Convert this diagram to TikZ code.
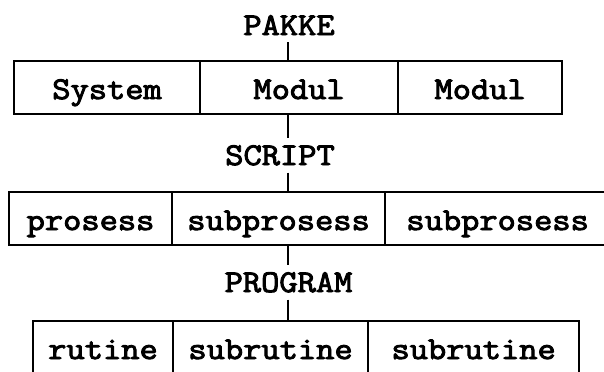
\documentclass[tikz,border=0pt]{standalone}
\usepackage{fontspec}
\newfontfamily\typewriter[FakeStretch=1.12,FakeBold=3]{Latin Modern Mono}
\usetikzlibrary{positioning}
\tikzset{
  cellbox/.style={draw,
    line width=1.7pt,
    outer sep=0pt,
    inner sep=0pt,
    minimum height=1.325cm,
    text height=0.95cm,
    text depth=0.375cm,
    font=\fontsize{22.5}{27}\selectfont\typewriter},
  levelname/.style={inner xsep=0pt,
    inner ysep=0.175cm,
    font=\fontsize{22.5}{27}\selectfont\typewriter},
  stub/.style={line width=1.7pt}
}

\begin{document}
\begin{tikzpicture}[x=0.025cm, y=-0.025cm]
\useasboundingbox (0,0) rectangle (604,371);
\coordinate (axis) at (288,0);

% Pakke
\node [levelname, anchor=base] (pakke) at (289,35) {PAKKE};

% System and modules
\node [cellbox,
	minimum width=4.65cm,
	anchor=north west
]  (sys) at (14,61) {System};
\node [cellbox,
	minimum width=4.95cm,
	right=0pt of sys
]  (moda) {Modul};
\node [cellbox,
	minimum width=4.1cm,
	right=0pt of moda
]  (modb) {Modul};

% Script
\node [levelname, anchor=base] (script) at (280,165) {SCRIPT};

% Processes
\node [cellbox,
	minimum width=4.075cm,
	anchor=north west
]  (pro) at (9,192) {prosess};
\node [cellbox,
	minimum width=5.325cm,
	right=0pt of pro
]  (suba) {subprosess};
\node [cellbox,
	minimum width=5.625cm,
	right=0pt of suba
]  (subb) {subprosess};

% Program
\node [levelname, anchor=base] (program) at (288.5,292) {PROGRAM};

% Routines
\node [cellbox,
	minimum width=3.5cm,
	anchor=north west
]  (rut) at (33,321) {rutine};
\node [cellbox,
	minimum width=4.875cm,
	right=0pt of rut
]  (sra) {subrutine};
\node [cellbox,
	minimum width=5.275cm,
	right=0pt of sra
]  (srb) {subrutine};

% Stubs between the levels
\draw[stub] (axis |- pakke.south) -- (axis |- moda.north);
\draw[stub] (axis |- moda.south) -- (axis |- script.north);
\draw[stub] (axis |- script.south) -- (axis |- suba.north);
\draw[stub] (axis |- suba.south) -- (axis |- program.north);
\draw[stub] (axis |- program.south) -- (axis |- sra.north);

\end{tikzpicture}
\end{document}
